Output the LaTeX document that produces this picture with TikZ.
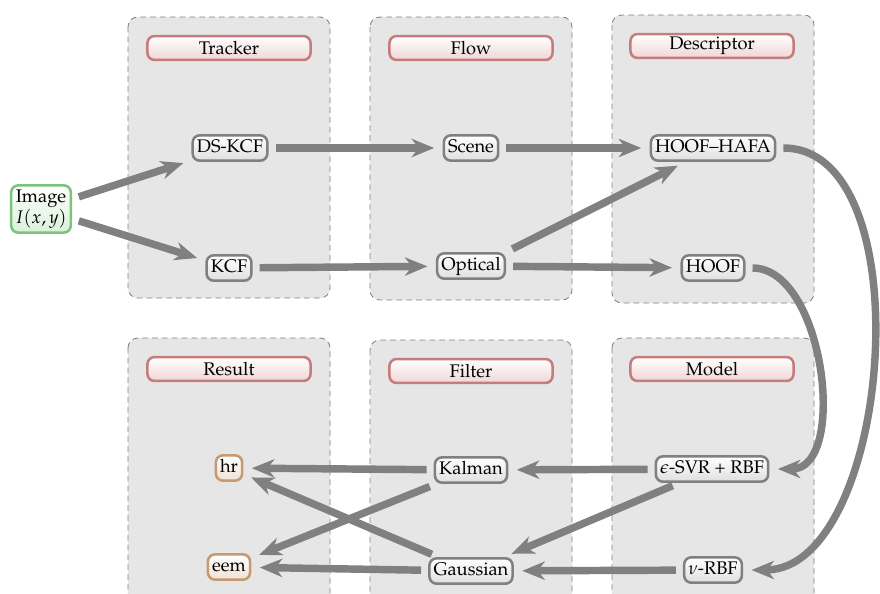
\documentclass[tikz,border=0pt]{standalone}
\usepackage[T1]{fontenc}
\usepackage{mathpazo}
\usetikzlibrary{arrows.meta}

\definecolor{boxgray}{HTML}{E6E6E6}
\definecolor{linegray}{HTML}{808080}
\definecolor{titlered}{HTML}{C47C7C}
\definecolor{titlepink}{HTML}{F0D6D6}
\definecolor{imggreen}{HTML}{7CC47C}
\definecolor{imgfill}{HTML}{DAF0DA}
\definecolor{restan}{HTML}{C49A74}
\definecolor{resfill}{HTML}{F0E2D4}

\begin{document}
\begin{tikzpicture}[x=0.025cm,y=-0.025cm,
  panel/.style={draw=linegray, dash pattern=on 4pt off 3pt, fill=boxgray, rounded corners=7pt, line width=0.6pt},
  title/.style={draw=titlered, line width=1.8pt, rounded corners=5pt, top color=white, bottom color=titlepink, minimum width=116pt, minimum height=17pt, inner sep=0pt, font=\fontsize{13}{15}\selectfont},
  basebox/.style={line width=1.8pt, rounded corners=5pt, top color=white, inner xsep=3pt, inner ysep=3pt, font=\fontsize{13}{15}\selectfont},
  stage/.style={basebox, draw=linegray, bottom color=gray!25, text height=9.5pt, text depth=2.5pt},
  input/.style={basebox, draw=imggreen, bottom color=imgfill, align=center},
  output/.style={basebox, draw=restan, bottom color=resfill, text height=9.5pt, text depth=2.5pt},
  link/.style={draw=linegray, line width=5.3pt, -{Stealth[length=16pt,width=13pt,inset=5pt]}, shorten <=5pt, shorten >=6pt},
]
\useasboundingbox (0,0) rectangle (880,593);
\clip (0,0) rectangle (880,593);
% panels
\draw[panel] (128,17) rectangle (330,298);
\draw[panel] (370,17) rectangle (572,300);
\draw[panel] (612,15) rectangle (814,303);
\draw[panel] (128,338) rectangle (330,620);
\draw[panel] (370,340) rectangle (572,620);
\draw[panel] (612,338) rectangle (814,620);
% panel titles
\node[title] (ttracker) at (229,48){Tracker};
\node[title] (tflow) at (471,48){Flow};
\node[title] (tdesc) at (712,46){Descriptor};
\node[title] (tresult) at (229,369){Result};
\node[title] (tfilter) at (471,371){Filter};
\node[title] (tmodel) at (712,369){Model};
% stages
\node[input] (image) at (41,209){Image\\$I(x,y)$};
\node[stage] (dskcf) at (230,148){DS-KCF};
\node[stage] (kcf) at (229,268){KCF};
\node[stage] (scene) at (471,148){Scene};
\node[stage] (optical) at (471,266){Optical};
\node[stage] (hoofhafa) at (713,148){HOOF--HAFA};
\node[stage] (hoof) at (713,268){HOOF};
\node[stage] (svr) at (712,469){$\epsilon$-SVR + RBF};
\node[stage] (nurbf) at (713,570){$\nu$-RBF};
\node[stage] (kalman) at (471,470){Kalman};
\node[stage] (gauss) at (471,571){Gaussian};
\node[output] (hr) at (229,468){hr};
\node[output] (eem) at (229,567){eem};
% connectors
\draw[link](image) -- (dskcf);
\draw[link](image) -- (kcf);
\draw[link](dskcf) -- (scene);
\draw[link](kcf) -- (optical);
\draw[link](scene) -- (hoofhafa);
\draw[link](optical.north east) -- (hoofhafa);
\draw[link](optical) -- (hoof);
\draw[link](hoofhafa.east) to[out=0, in=0, looseness=0.9] (nurbf.east);
\draw[link](hoof.east) to[out=0, in=0] (svr.east);
\draw[link](svr) -- (kalman);
\draw[link](svr) -- (gauss);
\draw[link](nurbf) -- (gauss);
\draw[link](kalman) -- (hr);
\draw[link](kalman) -- (eem);
\draw[link](gauss) -- (hr);
\draw[link](gauss) -- (eem);
\end{tikzpicture}
\end{document}
